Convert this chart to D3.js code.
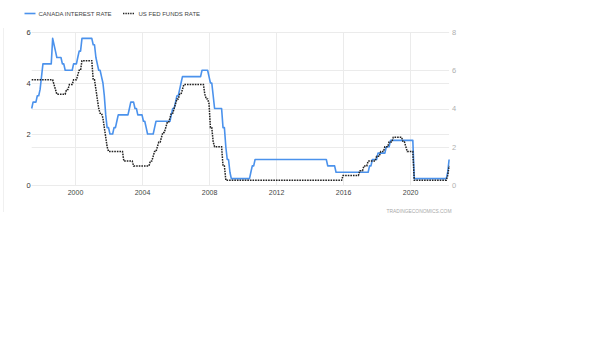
<!DOCTYPE html>
<html>
<head>
<meta charset="utf-8">
<script src="https://cdn.jsdelivr.net/npm/d3@7"></script>
<style>
  html, body { margin: 0; padding: 0; background: #fff; }
  svg { display: block; font-family: Arial, "Liberation Sans", sans-serif; }
</style>
</head>
<body>
<svg id="chart" width="600" height="337"></svg>
<script>
// Monthly policy rates, first month June 1997, last month May 2022.
const firstMonth = new Date(1997, 5, 1);
const lastMonth = new Date(2022, 4, 1);

// Canada overnight rate (%), left axis
const canadaRate = [
  /*1997*/ 3.0, 3.25, 3.25, 3.25, 3.5, 3.5, 3.75,
  /*1998*/ 4.25, 4.75, 4.75, 4.75, 4.75, 4.75, 4.75, 4.75, 5.75, 5.5, 5.25, 5.0,
  /*1999*/ 5.0, 5.0, 5.0, 4.75, 4.75, 4.5, 4.5, 4.5, 4.5, 4.5, 4.5, 4.75,
  /*2000*/ 4.75, 4.75, 5.0, 5.25, 5.25, 5.75, 5.75, 5.75, 5.75, 5.75, 5.75, 5.75,
  /*2001*/ 5.75, 5.5, 5.5, 5.0, 4.75, 4.5, 4.5, 4.25, 4.0, 3.5, 2.75, 2.25,
  /*2002*/ 2.25, 2.0, 2.0, 2.0, 2.25, 2.25, 2.5, 2.75, 2.75, 2.75, 2.75, 2.75,
  /*2003*/ 2.75, 2.75, 2.75, 3.0, 3.25, 3.25, 3.25, 3.0, 3.0, 2.75, 2.75, 2.75,
  /*2004*/ 2.75, 2.5, 2.5, 2.25, 2.0, 2.0, 2.0, 2.0, 2.0, 2.25, 2.5, 2.5,
  /*2005*/ 2.5, 2.5, 2.5, 2.5, 2.5, 2.5, 2.5, 2.5, 2.5, 2.75, 3.0, 3.0,
  /*2006*/ 3.25, 3.5, 3.5, 3.75, 4.0, 4.25, 4.25, 4.25, 4.25, 4.25, 4.25, 4.25,
  /*2007*/ 4.25, 4.25, 4.25, 4.25, 4.25, 4.25, 4.25, 4.5, 4.5, 4.5, 4.5, 4.5,
  /*2008*/ 4.25, 4.0, 4.0, 3.5, 3.0, 3.0, 3.0, 3.0, 3.0, 3.0, 2.25, 2.25,
  /*2009*/ 1.5, 1.0, 1.0, 0.5, 0.25, 0.25, 0.25, 0.25, 0.25, 0.25, 0.25, 0.25,
  /*2010*/ 0.25, 0.25, 0.25, 0.25, 0.25, 0.25, 0.5, 0.75, 0.75, 1.0, 1.0, 1.0,
  /*2011*/ 1.0, 1.0, 1.0, 1.0, 1.0, 1.0, 1.0, 1.0, 1.0, 1.0, 1.0, 1.0,
  /*2012*/ 1.0, 1.0, 1.0, 1.0, 1.0, 1.0, 1.0, 1.0, 1.0, 1.0, 1.0, 1.0,
  /*2013*/ 1.0, 1.0, 1.0, 1.0, 1.0, 1.0, 1.0, 1.0, 1.0, 1.0, 1.0, 1.0,
  /*2014*/ 1.0, 1.0, 1.0, 1.0, 1.0, 1.0, 1.0, 1.0, 1.0, 1.0, 1.0, 1.0,
  /*2015*/ 1.0, 0.75, 0.75, 0.75, 0.75, 0.75, 0.75, 0.5, 0.5, 0.5, 0.5, 0.5,
  /*2016*/ 0.5, 0.5, 0.5, 0.5, 0.5, 0.5, 0.5, 0.5, 0.5, 0.5, 0.5, 0.5,
  /*2017*/ 0.5, 0.5, 0.5, 0.5, 0.5, 0.5, 0.5, 0.75, 0.75, 1.0, 1.0, 1.0,
  /*2018*/ 1.0, 1.25, 1.25, 1.25, 1.25, 1.25, 1.25, 1.5, 1.5, 1.5, 1.75, 1.75,
  /*2019*/ 1.75, 1.75, 1.75, 1.75, 1.75, 1.75, 1.75, 1.75, 1.75, 1.75, 1.75, 1.75,
  /*2020*/ 1.75, 1.75, 1.75, 0.25, 0.25, 0.25, 0.25, 0.25, 0.25, 0.25, 0.25, 0.25,
  /*2021*/ 0.25, 0.25, 0.25, 0.25, 0.25, 0.25, 0.25, 0.25, 0.25, 0.25, 0.25, 0.25,
  /*2022*/ 0.25, 0.25, 0.25, 0.5, 1.0
];

// US fed funds target rate (%), right axis
const usFedRate = [
  /*1997*/ 5.5, 5.5, 5.5, 5.5, 5.5, 5.5, 5.5,
  /*1998*/ 5.5, 5.5, 5.5, 5.5, 5.5, 5.5, 5.5, 5.5, 5.5, 5.25, 5.0, 4.75,
  /*1999*/ 4.75, 4.75, 4.75, 4.75, 4.75, 4.75, 5.0, 5.0, 5.25, 5.25, 5.25, 5.5,
  /*2000*/ 5.5, 5.5, 5.75, 6.0, 6.0, 6.5, 6.5, 6.5, 6.5, 6.5, 6.5, 6.5,
  /*2001*/ 6.5, 5.5, 5.5, 5.0, 4.5, 4.0, 3.75, 3.75, 3.5, 3.0, 2.5, 2.0,
  /*2002*/ 1.75, 1.75, 1.75, 1.75, 1.75, 1.75, 1.75, 1.75, 1.75, 1.75, 1.75, 1.25,
  /*2003*/ 1.25, 1.25, 1.25, 1.25, 1.25, 1.25, 1.0, 1.0, 1.0, 1.0, 1.0, 1.0,
  /*2004*/ 1.0, 1.0, 1.0, 1.0, 1.0, 1.0, 1.25, 1.25, 1.5, 1.75, 1.75, 2.0,
  /*2005*/ 2.25, 2.25, 2.5, 2.75, 2.75, 3.0, 3.25, 3.25, 3.5, 3.75, 3.75, 4.0,
  /*2006*/ 4.25, 4.5, 4.5, 4.75, 4.75, 5.0, 5.25, 5.25, 5.25, 5.25, 5.25, 5.25,
  /*2007*/ 5.25, 5.25, 5.25, 5.25, 5.25, 5.25, 5.25, 5.25, 5.25, 4.75, 4.5, 4.5,
  /*2008*/ 4.25, 3.0, 3.0, 2.25, 2.0, 2.0, 2.0, 2.0, 2.0, 2.0, 1.0, 1.0,
  /*2009*/ 0.25, 0.25, 0.25, 0.25, 0.25, 0.25, 0.25, 0.25, 0.25, 0.25, 0.25, 0.25,
  /*2010*/ 0.25, 0.25, 0.25, 0.25, 0.25, 0.25, 0.25, 0.25, 0.25, 0.25, 0.25, 0.25,
  /*2011*/ 0.25, 0.25, 0.25, 0.25, 0.25, 0.25, 0.25, 0.25, 0.25, 0.25, 0.25, 0.25,
  /*2012*/ 0.25, 0.25, 0.25, 0.25, 0.25, 0.25, 0.25, 0.25, 0.25, 0.25, 0.25, 0.25,
  /*2013*/ 0.25, 0.25, 0.25, 0.25, 0.25, 0.25, 0.25, 0.25, 0.25, 0.25, 0.25, 0.25,
  /*2014*/ 0.25, 0.25, 0.25, 0.25, 0.25, 0.25, 0.25, 0.25, 0.25, 0.25, 0.25, 0.25,
  /*2015*/ 0.25, 0.25, 0.25, 0.25, 0.25, 0.25, 0.25, 0.25, 0.25, 0.25, 0.25, 0.25,
  /*2016*/ 0.5, 0.5, 0.5, 0.5, 0.5, 0.5, 0.5, 0.5, 0.5, 0.5, 0.5, 0.5,
  /*2017*/ 0.75, 0.75, 0.75, 1.0, 1.0, 1.0, 1.25, 1.25, 1.25, 1.25, 1.25, 1.25,
  /*2018*/ 1.5, 1.5, 1.5, 1.75, 1.75, 1.75, 2.0, 2.0, 2.0, 2.25, 2.25, 2.25,
  /*2019*/ 2.5, 2.5, 2.5, 2.5, 2.5, 2.5, 2.5, 2.25, 2.25, 2.0, 1.75, 1.75,
  /*2020*/ 1.75, 1.75, 1.75, 0.25, 0.25, 0.25, 0.25, 0.25, 0.25, 0.25, 0.25, 0.25,
  /*2021*/ 0.25, 0.25, 0.25, 0.25, 0.25, 0.25, 0.25, 0.25, 0.25, 0.25, 0.25, 0.25,
  /*2022*/ 0.25, 0.25, 0.25, 0.5, 1.0
];

const yearTicks = [2000, 2004, 2008, 2012, 2016, 2020];
const leftTicks = [0, 2, 4, 6];
const rightTicks = [0, 2, 4, 6, 8];
const seriesNames = ["CANADA INTEREST RATE", "US FED FUNDS RATE"];
const sourceLabel = "TRADINGECONOMICS.COM";

const colors = { canada: "#4b92ec", us: "#222222" };
const fontFamily = "Arial, 'Liberation Sans', sans-serif";

const months = d3.timeMonth.range(firstMonth, d3.timeMonth.offset(lastMonth, 1));

const svg = d3.select("#chart");

const plot = { left: 31.7, right: 449.1, top: 32, bottom: 185 };

const x = d3.scaleTime().domain([firstMonth, lastMonth]).range([plot.left, plot.right]);
const yLeft = d3.scaleLinear().domain([0, 6]).range([plot.bottom, plot.top]);
const yRight = d3.scaleLinear().domain([0, 8]).range([plot.bottom, plot.top]);

// faint frame line on the far left
svg.append("line")
  .attr("x1", 3.5).attr("x2", 3.5).attr("y1", 28).attr("y2", 212)
  .attr("stroke", "#f0f0f0").attr("stroke-width", 1);

// horizontal grid for both axes
const grid = svg.append("g").attr("class", "grid");
grid.selectAll("line.gl")
  .data(leftTicks.map(v => yLeft(v)).concat(rightTicks.map(v => yRight(v))))
  .join("line")
  .attr("class", "gl")
  .attr("x1", plot.left).attr("x2", plot.right)
  .attr("y1", d => Math.round(d) + 0.5).attr("y2", d => Math.round(d) + 0.5)
  .attr("stroke", "#ebebeb").attr("stroke-width", 1);

// vertical year grid
grid.selectAll("line.vl")
  .data(yearTicks)
  .join("line")
  .attr("class", "vl")
  .attr("x1", d => Math.round(x(new Date(d, 0, 1))) + 0.5)
  .attr("x2", d => Math.round(x(new Date(d, 0, 1))) + 0.5)
  .attr("y1", plot.top).attr("y2", plot.bottom)
  .attr("stroke", "#ebebeb").attr("stroke-width", 1);

// x axis labels
const xAxis = d3.axisBottom(x)
  .tickValues(yearTicks.map(d => new Date(d, 0, 1)))
  .tickFormat(d3.timeFormat("%Y"))
  .tickSize(0).tickPadding(0);
svg.append("g")
  .attr("transform", `translate(0,${plot.bottom + 5})`)
  .call(xAxis)
  .call(g => g.select(".domain").remove())
  .call(g => g.selectAll("text")
    .attr("font-size", 7).attr("fill", "#444").attr("font-family", fontFamily));

// left axis labels
const yAxisL = d3.axisLeft(yLeft).tickValues(leftTicks).tickFormat(d3.format("d"))
  .tickSize(0).tickPadding(0);
svg.append("g")
  .attr("transform", `translate(${plot.left - 1},0)`)
  .call(yAxisL)
  .call(g => g.select(".domain").remove())
  .call(g => g.selectAll("text")
    .attr("font-size", 7.5).attr("fill", "#333").attr("font-family", fontFamily));

// right axis labels
const yAxisR = d3.axisRight(yRight).tickValues(rightTicks).tickFormat(d3.format("d"))
  .tickSize(0).tickPadding(0);
svg.append("g")
  .attr("transform", `translate(${plot.right + 3},0)`)
  .call(yAxisR)
  .call(g => g.select(".domain").remove())
  .call(g => g.selectAll("text")
    .attr("font-size", 7.5).attr("fill", "#b0b0b0").attr("font-family", fontFamily));

// series lines
const lineCanada = d3.line().x((d, i) => x(months[i])).y(d => yLeft(d));
const lineUS = d3.line().x((d, i) => x(months[i])).y(d => yRight(d));

svg.append("path")
  .datum(canadaRate)
  .attr("d", lineCanada)
  .attr("fill", "none")
  .attr("stroke", colors.canada)
  .attr("stroke-width", 1.6)
  .attr("stroke-linejoin", "round");

svg.append("path")
  .datum(usFedRate)
  .attr("d", lineUS)
  .attr("fill", "none")
  .attr("stroke", colors.us)
  .attr("stroke-width", 1.5)
  .attr("stroke-dasharray", "1.6,1");

// legend
const legend = svg.append("g").attr("font-size", 6).attr("fill", "#444");
legend.append("line")
  .attr("x1", 24.5).attr("x2", 35.5).attr("y1", 13.5).attr("y2", 13.5)
  .attr("stroke", colors.canada).attr("stroke-width", 1.6);
legend.append("text").attr("x", 38.5).attr("y", 15.6).text(seriesNames[0]);
legend.append("line")
  .attr("x1", 123).attr("x2", 135).attr("y1", 13.5).attr("y2", 13.5)
  .attr("stroke", colors.us).attr("stroke-width", 1.5).attr("stroke-dasharray", "1.4,1");
legend.append("text").attr("x", 138.5).attr("y", 15.6).text(seriesNames[1]);

// source credit
svg.append("text")
  .attr("x", 451.5).attr("y", 213)
  .attr("text-anchor", "end")
  .attr("font-size", 4.9)
  .attr("fill", "#a8a8a8")
  .text(sourceLabel);
</script>
</body>
</html>
